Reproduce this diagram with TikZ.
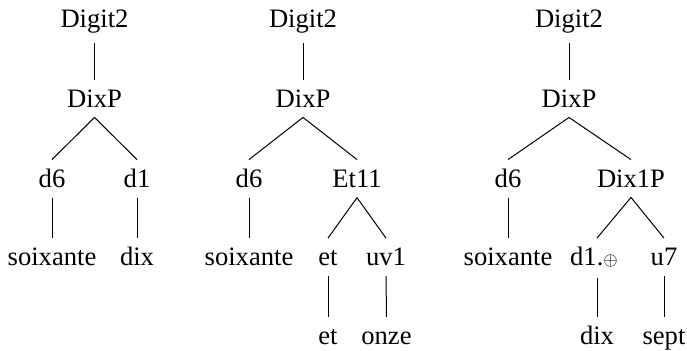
\documentclass[tikz,border=0pt]{standalone}
\usepackage{fontspec}
\setmainfont{Liberation Serif}
\begin{document}
\begin{tikzpicture}[x=0.5pt,y=-0.5pt,
  lab/.style={anchor=base,inner xsep=0pt,inner ysep=4.75pt,text height=9pt,font=\fontsize{13.3}{16}\selectfont},
  edge/.style={line width=0.5pt,black}]
\useasboundingbox (0,0) rectangle (687,351);
% Tree 1
\node[lab] (a1) at (94.5,27.5) {Digit2};
\node[lab] (a2) at (94.5,107.5) {DixP};
\node[lab] (a3) at (52,187.5) {d6};
\node[lab] (a4) at (137,187.5) {d1};
\node[lab] (a5) at (52,266) {soixante};
\node[lab] (a6) at (137,266) {dix};
\draw[edge] (a1.south) -- (a2.north);
\draw[edge] (a2.south) -- (a3.north);
\draw[edge] (a2.south) -- (a4.north);
\draw[edge] (a3.south) -- (a5.north);
\draw[edge] (a4.south) -- (a6.north);
% Tree 2
\node[lab] (b1) at (303,27.5) {Digit2};
\node[lab] (b2) at (303,107.5) {DixP};
\node[lab] (b3) at (249,187.5) {d6};
\node[lab] (b4) at (357,187.5) {Et11};
\node[lab] (b5) at (249,266) {soixante};
\node[lab] (b6) at (328,266) {et};
\node[lab] (b7) at (386,266) {uv1};
\node[lab] (b8) at (328,345) {et};
\node[lab] (b9) at (386.5,345) {onze};
\draw[edge] (b1.south) -- (b2.north);
\draw[edge] (b2.south) -- (b3.north);
\draw[edge] (b2.south) -- (b4.north);
\draw[edge] (b3.south) -- (b5.north);
\draw[edge] (b4.south) -- (b6.north);
\draw[edge] (b4.south) -- (b7.north);
\draw[edge] (b6.south) -- (b8.north);
\draw[edge] (b7.south) -- (b9.north);
% Tree 3
\node[lab] (c1) at (569,27.5) {Digit2};
\node[lab] (c2) at (569,107.5) {DixP};
\node[lab] (c3) at (508,187.5) {d6};
\node[lab] (c4) at (631,187.5) {Dix1P};
\node[lab] (c5) at (508,266) {soixante};
\node[lab] (c6) at (594,266) {d1.$\scriptstyle\oplus$};
\node[lab] (c7) at (664,266) {u7};
\node[lab] (c8) at (597,345) {dix};
\node[lab] (c9) at (664,345) {sept};
\coordinate (c6s) at ([xshift=1.5pt]c6.south);
\coordinate (c6n) at ([xshift=1.5pt]c6.north);
\draw[edge] (c1.south) -- (c2.north);
\draw[edge] (c2.south) -- (c3.north);
\draw[edge] (c2.south) -- (c4.north);
\draw[edge] (c3.south) -- (c5.north);
\draw[edge] (c4.south) -- (c6n);
\draw[edge] (c4.south) -- (c7.north);
\draw[edge] (c6s) -- (c8.north);
\draw[edge] (c7.south) -- (c9.north);
\end{tikzpicture}
\end{document}
